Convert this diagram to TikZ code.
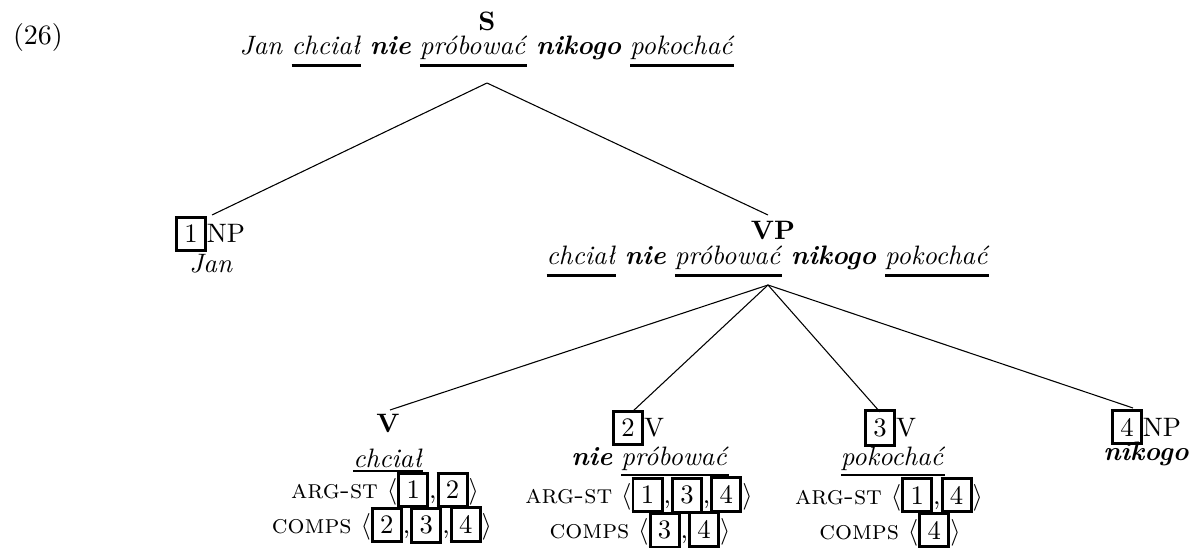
\documentclass[tikz,border=0pt]{standalone}
\usepackage{fontspec}
\newcommand\tagbox[1]{{\setlength\fboxrule{1.1pt}\setlength\fboxsep{2.4pt}\fbox{#1}}}
\newlength\ulpos
\newcommand\ul[1]{\setbox0\hbox{\textit{#1}}\setlength\ulpos{\dp0}\addtolength\ulpos{1.8pt}\rlap{\rule[-\ulpos]{\wd0}{0.8pt}}\box0\relax}
\newcommand\ulp[1]{\setbox0\hbox{\textit{#1}}\setlength\ulpos{4.4pt}\rlap{\rule[-\ulpos]{\wd0}{0.9pt}}\box0\relax}
\newcommand\bi[1]{\textbf{\textit{#1}}}
\newcommand\feat[1]{\textsc{\addfontfeature{LetterSpace=11}#1}}
\begin{document}
\begin{tikzpicture}[x=0.375pt,y=-0.375pt,
  lbl/.style={inner sep=0pt,font=\fontsize{10}{12}\selectfont},
  edge/.style={line width=0.4pt}]
\useasboundingbox (0,0) rectangle (1192,548);
\node[lbl,font=\fontsize{10.5}{12}\selectfont] (ex) at (38,38) {(26)};
% S
\node[lbl,font=\bfseries] (S) at (487,21) {S};
\node[lbl,anchor=base] (Sw) at (487,55) {\textit{Jan} \ulp{chciał} \bi{nie} \ulp{próbować} \bi{nikogo} \ulp{pokochać}};
\coordinate (sbot) at (487,83);
% NP1
\node[lbl] (np1) at (210,234) {\tagbox{1}NP};
\node[lbl] (np1w) at (211,264) {\textit{Jan}};
\coordinate (np1top) at (212,215);
% VP
\node[lbl,font=\bfseries] (vp) at (773,230) {VP};
\node[lbl,anchor=base] (vpw) at (768,265) {\ulp{chciał} \bi{nie} \ulp{próbować} \bi{nikogo} \ulp{pokochać}};
\coordinate (vptop) at (768,215);
\coordinate (vpbot) at (768,285);
% V
\node[lbl,font=\bfseries] (v) at (388,423) {V};
\node[lbl,anchor=base] (vw) at (388,467) {\ul{chciał}};
\node[lbl] (varg) at (385,490) {\feat{arg-st} $\langle$\tagbox{1},\tagbox{2}$\rangle$};
\node[lbl] (vcomps) at (382,525) {\feat{comps} $\langle$\tagbox{2},\tagbox{3},\tagbox{4}$\rangle$};
\coordinate (vtop) at (390,410);
% 2V
\node[lbl] (v2) at (638,428) {\tagbox{2}V};
\node[lbl,anchor=base] (v2w) at (650,466) {\bi{nie} \ul{próbować}};
\node[lbl] (v2arg) at (639,495) {\feat{arg-st} $\langle$\tagbox{1},\tagbox{3},\tagbox{4}$\rangle$};
\node[lbl] (v2comps) at (640,530) {\feat{comps} $\langle$\tagbox{3},\tagbox{4}$\rangle$};
\coordinate (v2top) at (632,412);
% 3V
\node[lbl] (v3) at (890,428) {\tagbox{3}V};
\node[lbl,anchor=base] (v3w) at (893,466) {\ul{pokochać}};
\node[lbl] (v3arg) at (889,495) {\feat{arg-st} $\langle$\tagbox{1},\tagbox{4}$\rangle$};
\node[lbl] (v3comps) at (890,530) {\feat{comps} $\langle$\tagbox{4}$\rangle$};
\coordinate (v3top) at (880,412);
% 4NP
\node[lbl] (np4) at (1146,427) {\tagbox{4}NP};
\node[lbl,anchor=base] (np4w) at (1146,461) {\bi{nikogo}};
\coordinate (np4top) at (1133,408);
% edges
\draw[edge] (sbot) -- (np1top);
\draw[edge] (sbot) -- (vptop);
\draw[edge] (vpbot) -- (vtop);
\draw[edge] (vpbot) -- (v2top);
\draw[edge] (vpbot) -- (v3top);
\draw[edge] (vpbot) -- (np4top);
\end{tikzpicture}
\end{document}
